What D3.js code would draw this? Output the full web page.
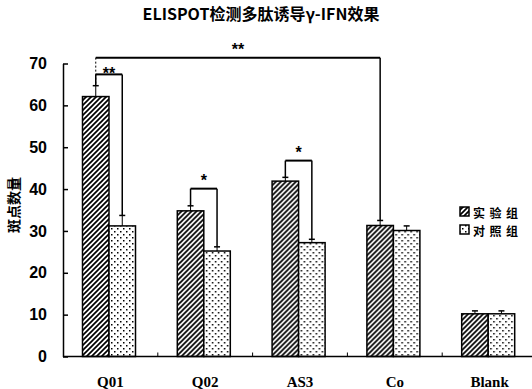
<!DOCTYPE html>
<html>
<head>
<meta charset="utf-8">
<script src="https://cdn.jsdelivr.net/npm/d3@7"></script>
<style>
	body { margin: 0; background: #fff; }
	svg { display: block; }
	.tick text { font-family: "Liberation Sans", Arial, sans-serif; font-weight: bold; }
</style>
</head>
<body>
<div id="chart"></div>
<script>
var categories = ["Q01", "Q02", "AS3", "Co", "Blank"];
var seriesNames = ["实验组", "对照组"];
var expValues = [62.1, 34.8, 41.9, 31.3, 10.2];
var expErrors = [2.6, 1.2, 0.9, 1.2, 0.7];
var ctrlValues = [31.2, 25.2, 27.2, 30.1, 10.2];
var ctrlErrors = [2.5, 1.0, 0.8, 1.1, 0.7];
var yTicks = [0, 10, 20, 30, 40, 50, 60, 70];
// significance brackets: from (category, series) to (category, series), level in y units
var brackets = [
	{from: ["Q01", 0], to: ["Co", 0], level: 71.4, label: "**"},
	{from: ["Q01", 0], to: ["Q01", 1], level: 67.4, label: "**"},
	{from: ["Q02", 0], to: ["Q02", 1], level: 40.1, label: "*"},
	{from: ["AS3", 0], to: ["AS3", 1], level: 46.8, label: "*"}
];

window.onload = function() {
	var W = 532, H = 389;
	var svg = d3.select("#chart").append("svg").attr("width", W).attr("height", H);

	var plot = {left: 63, right: 537, top: 63.5, bottom: 356.5};

	var x = d3.scaleBand().domain(categories).range([plot.left, plot.right]).padding(0);
	var x1 = d3.scaleBand().domain([0, 1]).range([19.5, 72.5]).padding(0);
	var y = d3.scaleLinear().domain([0, 70]).range([plot.bottom, plot.top]);

	var values = [expValues, ctrlValues];
	var errors = [expErrors, ctrlErrors];

	// patterns
	var defs = svg.append("defs");
	var hatch = defs.append("pattern").attr("id", "hatch")
		.attr("patternUnits", "userSpaceOnUse").attr("width", 5).attr("height", 5);
	hatch.append("rect").attr("width", 5).attr("height", 5).attr("fill", "#fff");
	hatch.append("path").attr("d", "M0,5 L5,0 M-1,1 L1,-1 M4,6 L6,4")
		.attr("stroke", "#000").attr("stroke-width", 1.7);

	var dots = defs.append("pattern").attr("id", "dots")
		.attr("patternUnits", "userSpaceOnUse").attr("width", 6).attr("height", 6);
	dots.append("rect").attr("width", 6).attr("height", 6).attr("fill", "#fff");
	dots.append("rect").attr("x", 0).attr("y", 0).attr("width", 1.5).attr("height", 1.5).attr("fill", "#000");
	dots.append("rect").attr("x", 3).attr("y", 3).attr("width", 1.5).attr("height", 1.5).attr("fill", "#000");
	var fills = ["url(#hatch)", "url(#dots)"];

	// title
	svg.append("text")
		.attr("x", 261).attr("y", 20)
		.attr("text-anchor", "middle")
		.style("font-family", "'Noto Sans CJK SC', 'Liberation Sans', sans-serif")
		.style("font-weight", "bold").style("font-size", "16px")
		.text("ELISPOT检测多肽诱导γ-IFN效果");

	// y axis label
	svg.append("text")
		.attr("transform", "translate(19,205) rotate(-90)")
		.attr("text-anchor", "middle")
		.style("font-family", "'Noto Sans CJK SC', sans-serif")
		.style("font-weight", "bold").style("font-size", "14px")
		.text("斑点数量");

	// y axis
	var yAxis = svg.append("g")
		.attr("transform", "translate(" + plot.left + ",0)")
		.call(d3.axisLeft(y).tickValues(yTicks).tickSizeInner(-5).tickSizeOuter(0).tickPadding(16));
	yAxis.selectAll("text").style("font-size", "16px");
	yAxis.selectAll("line, path").attr("stroke", "#000").attr("stroke-width", 1.5);

	// x axis labels
	var xAxis = svg.append("g")
		.attr("transform", "translate(0," + plot.bottom + ")")
		.call(d3.axisBottom(x).tickSize(0).tickPadding(20));
	xAxis.select(".domain").remove();
	xAxis.selectAll("text")
		.style("font-family", "'Liberation Serif', 'DejaVu Serif', serif")
		.style("font-size", "15px");

	// bars
	var groups = svg.selectAll(".cat")
		.data(categories)
		.enter().append("g")
			.attr("class", "cat")
			.attr("transform", function(d) { return "translate(" + x(d) + ",0)"; });

	[0, 1].forEach(function(s) {
		groups.append("rect")
			.attr("x", x1(s))
			.attr("y", function(d, i) { return y(values[s][i]); })
			.attr("width", x1.bandwidth())
			.attr("height", function(d, i) { return y(0) - y(values[s][i]); })
			.attr("fill", fills[s])
			.attr("stroke", "#000").attr("stroke-width", 1.5);

		// error bars (upper only)
		groups.append("line")
			.attr("x1", x1(s) + x1.bandwidth() / 2).attr("x2", x1(s) + x1.bandwidth() / 2)
			.attr("y1", function(d, i) { return y(values[s][i]); })
			.attr("y2", function(d, i) { return y(values[s][i] + errors[s][i]); })
			.attr("stroke", "#000").attr("stroke-width", 1);
		groups.append("line")
			.attr("x1", x1(s) + x1.bandwidth() / 2 - 3).attr("x2", x1(s) + x1.bandwidth() / 2 + 3)
			.attr("y1", function(d, i) { return y(values[s][i] + errors[s][i]); })
			.attr("y2", function(d, i) { return y(values[s][i] + errors[s][i]); })
			.attr("stroke", "#000").attr("stroke-width", 1.5);
	});

	// x baseline and category boundary ticks
	svg.append("line")
		.attr("x1", plot.left).attr("x2", plot.right)
		.attr("y1", plot.bottom).attr("y2", plot.bottom)
		.attr("stroke", "#000").attr("stroke-width", 1.5);
	svg.selectAll(".bound")
		.data(categories.slice(1))
		.enter().append("line")
			.attr("class", "bound")
			.attr("x1", function(d) { return x(d); }).attr("x2", function(d) { return x(d); })
			.attr("y1", plot.bottom).attr("y2", plot.bottom - 4)
			.attr("stroke", "#000").attr("stroke-width", 1);

	// significance brackets
	function barCenter(c) { return x(c[0]) + x1(c[1]) + x1.bandwidth() / 2; }
	function barTop(c) {
		var i = categories.indexOf(c[0]);
		return y(values[c[1]][i] + errors[c[1]][i]);
	}
	brackets.forEach(function(b, k) {
		var xa = barCenter(b.from), xb = barCenter(b.to), yl = y(b.level);
		var g = svg.append("g");
		g.append("line").attr("x1", xa).attr("x2", xb).attr("y1", yl).attr("y2", yl)
			.attr("stroke", "#000").attr("stroke-width", 2);
		g.append("line").attr("x1", xa).attr("x2", xa).attr("y1", yl).attr("y2", barTop(b.from))
			.attr("stroke", "#000").attr("stroke-width", k == 0 ? 1 : 1.5)
			.attr("stroke-dasharray", k == 0 ? "2,2" : null);
		g.append("line").attr("x1", xb).attr("x2", xb).attr("y1", yl).attr("y2", barTop(b.to))
			.attr("stroke", "#000").attr("stroke-width", 1.5);
		// nested brackets get a tighter label gap
		var nested = brackets.some(function(o) { return o !== b && o.level > b.level && o.level - b.level < 6; });
		var cy = yl - (nested ? 4 : 12);
		g.append("text")
			.attr("x", (xa + xb) / 2).attr("y", cy + 9)
			.attr("text-anchor", "middle")
			.style("font-family", "'Liberation Sans', Arial, sans-serif")
			.style("font-weight", "bold").style("font-size", "16px")
			.text(b.label);
	});

	// legend
	var legend = svg.append("g");
	seriesNames.forEach(function(name, s) {
		var ly = 207 + s * 18;
		legend.append("rect")
			.attr("x", 460).attr("y", ly).attr("width", 9).attr("height", 9)
			.attr("fill", fills[s]).attr("stroke", "#000").attr("stroke-width", 1.5);
		legend.append("text")
			.attr("x", 473).attr("y", ly + 5)
			.attr("dominant-baseline", "central")
			.style("font-family", "'Noto Sans CJK SC', sans-serif")
			.style("font-weight", "bold")
			.style("font-size", "12px").style("letter-spacing", "4.5px")
			.text(name);
	});
};
</script>
</body>
</html>
